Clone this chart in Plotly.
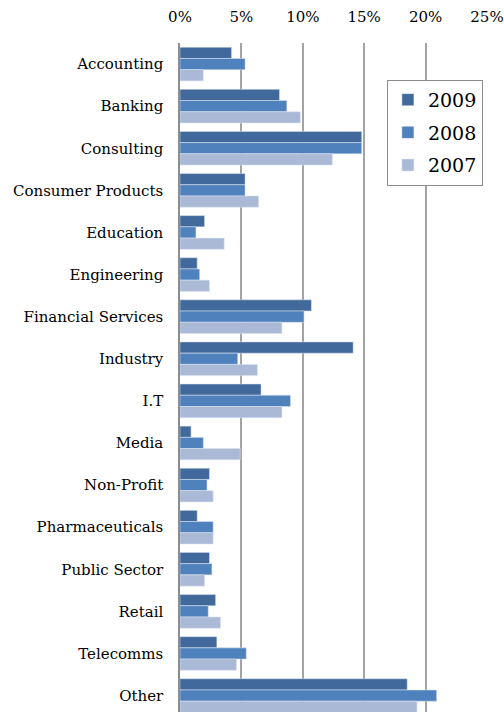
import plotly.graph_objects as go

categories = [
    "Accounting", "Banking", "Consulting", "Consumer Products", "Education",
    "Engineering", "Financial Services", "Industry", "I.T", "Media",
    "Non-Profit", "Pharmaceuticals", "Public Sector", "Retail", "Telecomms", "Other",
]

# Share of graduates by sector, percent
share_2009 = [4.2, 8.1, 14.8, 5.3, 2.0, 1.4, 10.7, 14.1, 6.6, 0.9, 2.4, 1.4, 2.4, 2.9, 3.0, 18.5]
share_2008 = [5.3, 8.7, 14.8, 5.3, 1.3, 1.6, 10.1, 4.7, 9.0, 1.9, 2.2, 2.7, 2.6, 2.3, 5.4, 20.9]
share_2007 = [1.9, 9.8, 12.4, 6.4, 3.6, 2.4, 8.3, 6.3, 8.3, 4.9, 2.7, 2.7, 2.0, 3.3, 4.6, 19.3]

x_ticks = [0, 5, 10, 15, 20, 25]
x_tick_labels = ["0%", "5%", "10%", "15%", "20%", "25%"]

series = [
    ("2009", share_2009, "#41699B"),
    ("2008", share_2008, "#4F81BD"),
    ("2007", share_2007, "#AAB9D6"),
]

FONT = "DejaVu Serif"

fig = go.Figure()
for name, vals, color in series:
    fig.add_trace(go.Bar(
        y=categories,
        x=vals,
        name=name,
        orientation="h",
        legendgroup=name,
        marker=dict(color=color, line=dict(color="rgba(220,228,240,0.9)", width=0.6)),
    ))

fig.update_layout(
    width=504,
    height=712,
    margin=dict(l=180, r=17, t=43, b=0),
    paper_bgcolor="white",
    plot_bgcolor="white",
    barmode="group",
    bargap=0.2,
    bargroupgap=0,
    font=dict(family=FONT, color="black", size=15),
    legend=dict(
        x=0.674, y=0.945, xanchor="left", yanchor="top",
        bordercolor="#8C8C8C", borderwidth=1, bgcolor="white",
        font=dict(family=FONT, size=19),
        tracegroupgap=5,
    ),
    xaxis=dict(
        side="top",
        range=[0, 25],
        tickvals=x_ticks,
        ticktext=x_tick_labels,
        showgrid=True,
        gridcolor="#A3A3A3",
        gridwidth=1.5,
        zeroline=False,
        showline=False,
        ticks="",
        ticklabelstandoff=17,
        tickfont=dict(family=FONT, size=15),
    ),
    yaxis=dict(
        categoryorder="array",
        categoryarray=categories,
        range=[15.39, -0.5],
        showgrid=False,
        zeroline=False,
        showline=True,
        linecolor="#8C8C8C",
        linewidth=1.5,
        ticks="",
        ticklabelstandoff=12,
        tickfont=dict(family=FONT, size=15),
    ),
)

fig.write_html("out.html")
